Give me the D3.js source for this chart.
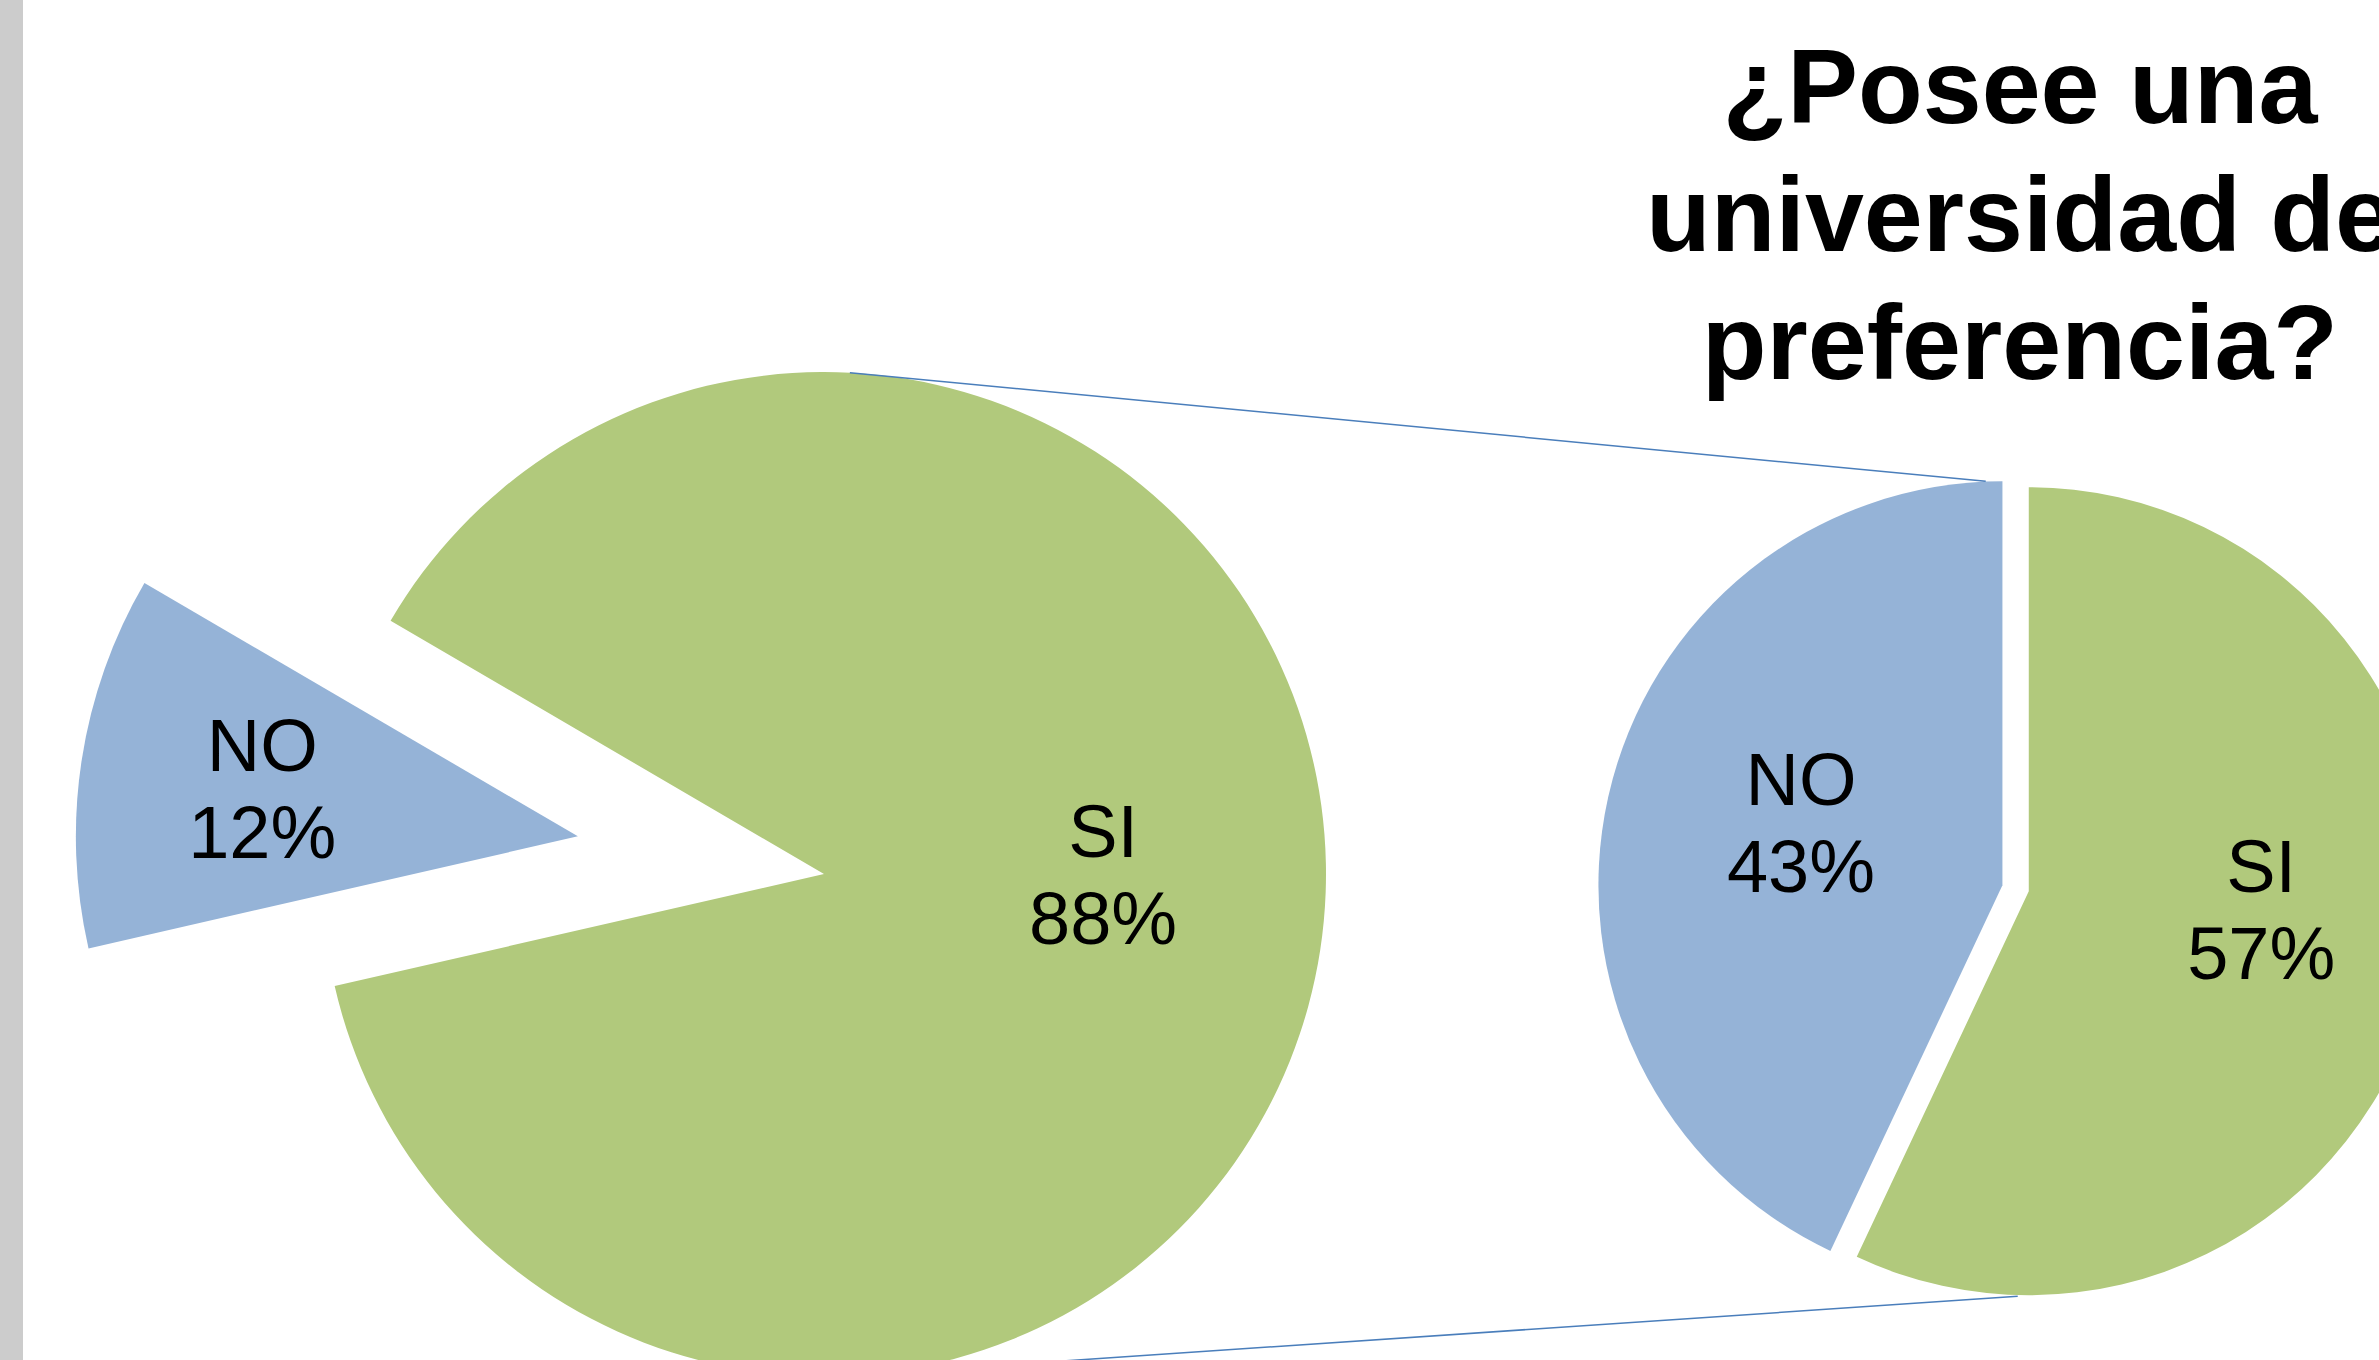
<!DOCTYPE html>
<html>
<head>
<meta charset="utf-8">
<script src="https://cdn.jsdelivr.net/npm/d3@7"></script>
<style>
  body { margin: 0; background: #ffffff; overflow: hidden; }
  text { font-family: "Liberation Sans", Arial, sans-serif; }
</style>
</head>
<body>
<svg id="chart"></svg>
<script>
// data
var categories = ["NO", "SI"];
var mainValues = [12, 88];      // primary pie (left)
var secondValues = [43, 57];    // secondary pie (right)
var titleLines = ["¿Posee una", "universidad de", "preferencia?"];

var width = 2379;
var height = 1360;

var colors = d3.scaleOrdinal()
  .domain(categories)
  .range(["#95b3d7", "#b1c97c"]);

var deg = Math.PI / 180;

var svg = d3.select("#chart")
  .attr("width", width)
  .attr("height", height);

// grey strip on the left edge
svg.append("rect")
  .attr("x", 0).attr("y", 0)
  .attr("width", 23).attr("height", height)
  .style("fill", "#cccccc");

// layout of the two pies (labelShift: degrees added to the slice bisector for the label)
var mainPie = { cx: 824, cy: 874, r: 502, start: 257.1 * deg, explode: [249, 0],
  labelFrac: [0.636, 0.556], labelShift: [0, -8.6] };
var secondPie = { cx: 2015.6, cy: 888.3, r: 404, start: -154.8 * deg, explode: [13.5, 13.5],
  labelFrac: [0.522, 0.577], labelShift: [4.6, -8.2] };

function drawPie(values, layout) {
  var pie = d3.pie()
    .sort(null)
    .startAngle(layout.start)
    .endAngle(layout.start + 2 * Math.PI);

  var arc = d3.arc()
    .innerRadius(0)
    .outerRadius(layout.r);

  var slices = pie(values).map(function (d, i) {
    var mid = (d.startAngle + d.endAngle) / 2;
    var lab = mid + layout.labelShift[i] * deg;
    d.key = categories[i];
    d.ox = layout.cx + Math.sin(mid) * layout.explode[i];
    d.oy = layout.cy - Math.cos(mid) * layout.explode[i];
    d.lx = d.ox + Math.sin(lab) * layout.r * layout.labelFrac[i];
    d.ly = d.oy - Math.cos(lab) * layout.r * layout.labelFrac[i];
    return d;
  });

  var g = svg.append("g");

  g.selectAll("path")
    .data(slices)
    .enter()
    .append("path")
    .attr("transform", function (d) { return "translate(" + d.ox + "," + d.oy + ")"; })
    .attr("d", arc)
    .style("fill", function (d) { return colors(d.key); });

  var labels = g.selectAll("text.label")
    .data(slices)
    .enter()
    .append("text")
    .attr("class", "label")
    .attr("text-anchor", "middle")
    .style("font-size", "74px")
    .style("fill", "#000000");

  labels.append("tspan")
    .attr("x", function (d) { return d.lx; })
    .attr("y", function (d) { return d.ly - 43.5 + 26; })
    .text(function (d) { return d.key; });

  labels.append("tspan")
    .attr("x", function (d) { return d.lx; })
    .attr("y", function (d) { return d.ly + 43.5 + 26; })
    .text(function (d) { return d.value + "%"; });
}

drawPie(mainValues, mainPie);
drawPie(secondValues, secondPie);

// series lines between the pies (angles on each circle, degrees)
var connectors = [
  { from: 2.95, to: -4.2 },
  { from: 176.1, to: 179.7 }
];

function pointOn(layout, a, k) {
  return [layout.cx + Math.sin(a * deg) * layout.r * k, layout.cy - Math.cos(a * deg) * layout.r * k];
}

svg.selectAll("line.series")
  .data(connectors)
  .enter()
  .append("line")
  .attr("class", "series")
  .attr("x1", function (d) { return pointOn(mainPie, d.from, 1.0)[0]; })
  .attr("y1", function (d) { return pointOn(mainPie, d.from, 1.0)[1]; })
  .attr("x2", function (d) { return pointOn(secondPie, d.to, 1.01)[0]; })
  .attr("y2", function (d) { return pointOn(secondPie, d.to, 1.01)[1]; })
  .style("stroke", "#4a7ebb")
  .style("stroke-width", 1.5);

// title (clipped at the right edge, as in the original slide)
svg.append("g")
  .selectAll("text")
  .data(titleLines)
  .enter()
  .append("text")
  .attr("x", 2020)
  .attr("y", function (d, i) { return 123 + i * 128; })
  .attr("text-anchor", "middle")
  .style("font-size", "106px")
  .style("font-weight", "bold")
  .style("fill", "#000000")
  .text(function (d) { return d; });
</script>
</body>
</html>
